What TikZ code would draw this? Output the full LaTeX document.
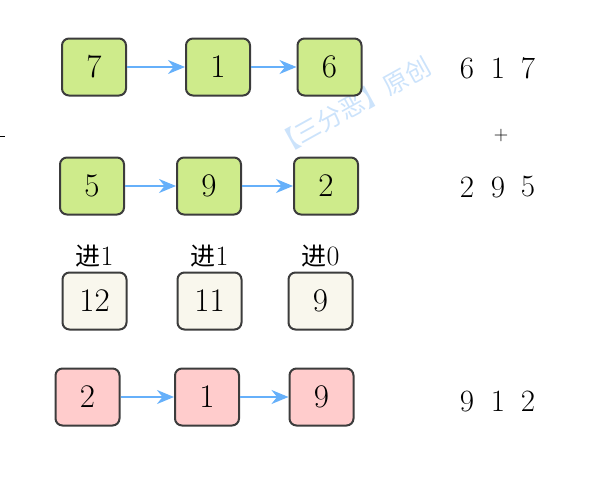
\documentclass[tikz,border=0pt]{standalone}
\usepackage{fontspec}
\newfontfamily\cjk{Noto Sans CJK SC}
\usetikzlibrary{arrows.meta, positioning}
\definecolor{mygreen}{RGB}{206,235,139}
\definecolor{mycream}{RGB}{249,247,237}
\definecolor{mypink}{RGB}{255,204,204}
\definecolor{myborder}{RGB}{60,60,60}
\definecolor{myblue}{RGB}{102,176,250}
\definecolor{mywater}{RGB}{204,227,251}

\tikzset{
  digitbox/.style={draw=myborder, line width=2pt, rounded corners=7pt,
    minimum width=64pt, minimum height=57pt, font=\fontsize{33}{35}\selectfont},
  link/.style={-{Stealth[length=17pt, width=14pt]}, line width=2pt, myblue},
  sumdigit/.style={font=\fontsize{31}{33}\selectfont}
}

\begin{document}
\begin{tikzpicture}[x=1pt, y=-1pt]
\useasboundingbox (0,0) rectangle (608,488);

% watermark
\node[rotate=29, text=mywater, font=\cjk\fontsize{25}{25}\selectfont] (mark) at (352,106) {【三分恶】原创};

% first number
\foreach \val/\x [count=\i] in {7/94, 1/218, 6/329.5} {
    \node[digitbox, fill=mygreen] (a\i) at (\x, 67) {\val};
}
\draw[link] (a1) -- (a2);
\draw[link] (a2) -- (a3);

% second number
\foreach \val/\x [count=\i] in {5/92, 9/209, 2/326} {
    \node[digitbox, fill=mygreen] (b\i) at (\x, 186) {\val};
}
\draw[link] (b1) -- (b2);
\draw[link] (b2) -- (b3);

% digit sums and carries
\foreach \val/\x/\c [count=\i] in {12/94.5/1, 11/209.5/1, 9/320.5/0} {
    \node[digitbox, fill=mycream] (s\i) at (\x, 301) {\val};
    \node[above=1pt of s\i, font=\fontsize{28}{30}\selectfont] (c\i) {{\cjk\fontsize{25}{30}\selectfont 进}\c};
}

% result
\foreach \val/\x [count=\i] in {2/87.5, 1/207, 9/321.5} {
    \node[digitbox, fill=mypink] (r\i) at (\x, 397) {\val};
}
\draw[link] (r1) -- (r2);
\draw[link] (r2) -- (r3);

% column addition
\foreach \val/\x [count=\i] in {6/467, 1/498, 7/528} {
    \node[sumdigit] (p\i) at (\x, 68) {\val};
}
\node[font=\fontsize{20}{22}\selectfont] (plus) at (501,136) {+};
\foreach \val/\x [count=\i] in {2/467, 9/498, 5/528} {
    \node[sumdigit] (q\i) at (\x, 187) {\val};
}
\foreach \val/\x [count=\i] in {9/467, 1/498, 2/528} {
    \node[sumdigit] (t\i) at (\x, 401) {\val};
}

% left edge mark
\coordinate (tick) at (0,136);
\draw[line width=0.8pt] (tick) -- ++(5,0);
\end{tikzpicture}
\end{document}
